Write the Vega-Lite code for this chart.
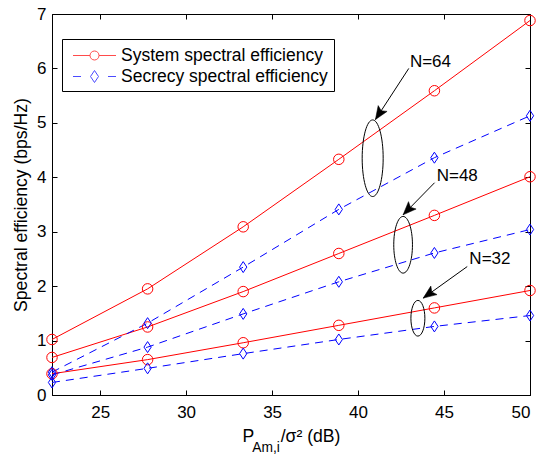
{
  "$schema": "https://vega.github.io/schema/vega-lite/v6.json",
  "width": 478,
  "height": 381,
  "autosize": {"type": "none"},
  "padding": {"left": 52, "top": 14, "right": 22, "bottom": 59},
  "background": "white",
  "config": {
    "font": "Liberation Sans",
    "view": {"stroke": "black", "strokeWidth": 1},
    "axis": {
      "grid": false,
      "domainColor": "black",
      "domainWidth": 1,
      "tickColor": "black",
      "tickWidth": 1,
      "tickSize": -5,
      "labelColor": "black",
      "titleColor": "black",
      "labelFont": "Liberation Sans",
      "titleFont": "Liberation Sans",
      "labelFontSize": 17,
      "titleFontSize": 17.6,
      "titleFontWeight": "normal"
    }
  },
  "title": {
    "text": "Am,i",
    "orient": "bottom",
    "anchor": "middle",
    "frame": "group",
    "font": "Liberation Sans",
    "fontSize": 13.8,
    "fontWeight": "normal",
    "color": "black",
    "dx": -25,
    "offset": -4
  },
  "datasets": {
    "curves": [
      {"p": 22.2, "N": 64, "series": "System spectral efficiency", "se": 1.02},
      {"p": 27.76, "N": 64, "series": "System spectral efficiency", "se": 1.95},
      {"p": 33.32, "N": 64, "series": "System spectral efficiency", "se": 3.09},
      {"p": 38.88, "N": 64, "series": "System spectral efficiency", "se": 4.33},
      {"p": 44.44, "N": 64, "series": "System spectral efficiency", "se": 5.59},
      {"p": 50, "N": 64, "series": "System spectral efficiency", "se": 6.88},
      {"p": 22.2, "N": 64, "series": "Secrecy spectral efficiency", "se": 0.42},
      {"p": 27.76, "N": 64, "series": "Secrecy spectral efficiency", "se": 1.32},
      {"p": 33.32, "N": 64, "series": "Secrecy spectral efficiency", "se": 2.35},
      {"p": 38.88, "N": 64, "series": "Secrecy spectral efficiency", "se": 3.41},
      {"p": 44.44, "N": 64, "series": "Secrecy spectral efficiency", "se": 4.36},
      {"p": 50, "N": 64, "series": "Secrecy spectral efficiency", "se": 5.13},
      {"p": 22.2, "N": 48, "series": "System spectral efficiency", "se": 0.69},
      {"p": 27.76, "N": 48, "series": "System spectral efficiency", "se": 1.25},
      {"p": 33.32, "N": 48, "series": "System spectral efficiency", "se": 1.9},
      {"p": 38.88, "N": 48, "series": "System spectral efficiency", "se": 2.6},
      {"p": 44.44, "N": 48, "series": "System spectral efficiency", "se": 3.3},
      {"p": 50, "N": 48, "series": "System spectral efficiency", "se": 4.01},
      {"p": 22.2, "N": 48, "series": "Secrecy spectral efficiency", "se": 0.37},
      {"p": 27.76, "N": 48, "series": "Secrecy spectral efficiency", "se": 0.88},
      {"p": 33.32, "N": 48, "series": "Secrecy spectral efficiency", "se": 1.49},
      {"p": 38.88, "N": 48, "series": "Secrecy spectral efficiency", "se": 2.08},
      {"p": 44.44, "N": 48, "series": "Secrecy spectral efficiency", "se": 2.61},
      {"p": 50, "N": 48, "series": "Secrecy spectral efficiency", "se": 3.04},
      {"p": 22.2, "N": 32, "series": "System spectral efficiency", "se": 0.39},
      {"p": 27.76, "N": 32, "series": "System spectral efficiency", "se": 0.65},
      {"p": 33.32, "N": 32, "series": "System spectral efficiency", "se": 0.96},
      {"p": 38.88, "N": 32, "series": "System spectral efficiency", "se": 1.28},
      {"p": 44.44, "N": 32, "series": "System spectral efficiency", "se": 1.6},
      {"p": 50, "N": 32, "series": "System spectral efficiency", "se": 1.92},
      {"p": 22.2, "N": 32, "series": "Secrecy spectral efficiency", "se": 0.23},
      {"p": 27.76, "N": 32, "series": "Secrecy spectral efficiency", "se": 0.49},
      {"p": 33.32, "N": 32, "series": "Secrecy spectral efficiency", "se": 0.76},
      {"p": 38.88, "N": 32, "series": "Secrecy spectral efficiency", "se": 1.02},
      {"p": 44.44, "N": 32, "series": "Secrecy spectral efficiency", "se": 1.26},
      {"p": 50, "N": 32, "series": "Secrecy spectral efficiency", "se": 1.46}
    ],
    "notes": [
      {"N": 64, "label": "N=64", "lx": 44.21, "ly": 6.12, "ax": 42.95, "ay": 6.0, "tx": 41.01, "ty": 5.06, "ex": 40.85, "ey": 4.35},
      {"N": 48, "label": "N=48", "lx": 45.77, "ly": 4.03, "ax": 44.45, "ay": 3.9, "tx": 42.62, "ty": 3.31, "ex": 42.62, "ey": 2.76},
      {"N": 32, "label": "N=32", "lx": 47.67, "ly": 2.5, "ax": 46.35, "ay": 2.36, "tx": 43.79, "ty": 1.78, "ex": 43.48, "ey": 1.41}
    ]
  },
  "layer": [
    {
      "data": {"name": "curves"},
      "transform": [{"filter": "datum.series === 'System spectral efficiency'"}],
      "mark": {"type": "line", "color": "#ff0000", "strokeWidth": 1, "clip": false},
      "encoding": {
        "x": {
          "field": "p",
          "type": "quantitative",
          "scale": {"domain": [22.2, 50], "nice": false, "zero": false},
          "axis": {
            "title": "P\u2003\u2002/σ² (dB)",
            "values": [25, 30, 35, 40, 45, 50],
            "labelPadding": 14,
            "titlePadding": 7
          }
        },
        "y": {
          "field": "se",
          "type": "quantitative",
          "scale": {"domain": [0, 7], "nice": false},
          "axis": {
            "title": "Spectral efficiency (bps/Hz)",
            "values": [0, 1, 2, 3, 4, 5, 6, 7],
            "labelPadding": 11,
            "titlePadding": 6
          }
        },
        "detail": {"field": "N"}
      }
    },
    {
      "data": {"name": "curves"},
      "transform": [{"filter": "datum.series === 'Secrecy spectral efficiency'"}],
      "mark": {"type": "line", "color": "#0000ff", "strokeWidth": 1, "strokeDash": [8, 6], "clip": false},
      "encoding": {
        "x": {"field": "p", "type": "quantitative", "axis": null},
        "y": {"field": "se", "type": "quantitative", "axis": null},
        "detail": {"field": "N"}
      }
    },
    {
      "data": {"name": "curves"},
      "transform": [{"filter": "datum.series === 'System spectral efficiency'"}],
      "mark": {"type": "point", "shape": "circle", "size": 110, "filled": false, "stroke": "#ff0000", "strokeWidth": 1, "opacity": 1, "clip": false},
      "encoding": {
        "x": {"field": "p", "type": "quantitative", "axis": null},
        "y": {"field": "se", "type": "quantitative", "axis": null}
      }
    },
    {
      "data": {"name": "curves"},
      "transform": [{"filter": "datum.series === 'Secrecy spectral efficiency'"}],
      "mark": {"type": "point", "shape": "M0,-1L0.66,0L0,1L-0.66,0Z", "size": 121, "filled": false, "stroke": "#0000ff", "strokeWidth": 1, "opacity": 1, "clip": false},
      "encoding": {
        "x": {"field": "p", "type": "quantitative", "axis": null},
        "y": {"field": "se", "type": "quantitative", "axis": null}
      }
    },
    {
      "data": {"name": "curves"},
      "transform": [{"filter": "false"}],
      "mark": {"type": "point", "filled": false, "size": 400, "strokeWidth": 1},
      "encoding": {
        "x": {
          "field": "p",
          "type": "quantitative",
          "axis": {"orient": "top", "labels": false, "title": null, "domain": false, "values": [25, 30, 35, 40, 45, 50]}
        },
        "y": {
          "field": "se",
          "type": "quantitative",
          "axis": {"orient": "right", "labels": false, "title": null, "domain": false, "values": [0, 1, 2, 3, 4, 5, 6, 7]}
        },
        "color": {
          "field": "series",
          "type": "nominal",
          "scale": {
            "domain": ["System spectral efficiency", "Secrecy spectral efficiency"],
            "range": ["#ff0000", "#0000ff"]
          },
          "legend": {
            "title": null,
            "orient": "none",
            "legendX": 10,
            "legendY": 25,
            "fillColor": "white",
            "strokeColor": "black",
            "padding": 6,
            "cornerRadius": 0,
            "rowPadding": 2,
            "symbolSize": 400,
            "symbolStrokeWidth": 1,
            "symbolOffset": 16,
            "labelOffset": 16,
            "labelFont": "Liberation Sans",
            "labelFontSize": 17.5,
            "labelColor": "black",
            "labelLimit": 400
          }
        },
        "shape": {
          "field": "series",
          "type": "nominal",
          "scale": {
            "domain": ["System spectral efficiency", "Secrecy spectral efficiency"],
            "range": [
              "M-2.15,0H-0.45M0.45,0H2.15M-0.45,0C-0.45,-0.25,-0.25,-0.45,0,-0.45C0.25,-0.45,0.45,-0.25,0.45,0C0.45,0.25,0.25,0.45,0,0.45C-0.25,0.45,-0.45,0.25,-0.45,0Z",
              "M-2.15,0H-1.35M1.35,0H2.15M0,-0.6L0.4,0L0,0.6L-0.4,0Z"
            ]
          }
        }
      }
    },
    {
      "data": {"name": "notes"},
      "mark": {"type": "rule", "color": "black", "strokeWidth": 1},
      "encoding": {
        "x": {"field": "ax", "type": "quantitative", "axis": null},
        "y": {"field": "ay", "type": "quantitative", "axis": null},
        "x2": {"field": "tx"},
        "y2": {"field": "ty"}
      }
    },
    {
      "data": {"name": "notes"},
      "mark": {"type": "point", "shape": "M0,0L0.4,1L0,0.8L-0.4,1Z", "size": 700, "filled": true, "fill": "black", "stroke": "black", "strokeWidth": 0.5, "opacity": 1},
      "encoding": {
        "x": {"field": "tx", "type": "quantitative", "axis": null},
        "y": {"field": "ty", "type": "quantitative", "axis": null},
        "angle": {
          "field": "N",
          "type": "quantitative",
          "scale": {"domain": [32, 48, 64], "range": [234, 224, 213]},
          "legend": null
        }
      }
    },
    {
      "data": {"name": "notes"},
      "transform": [{"filter": "datum.N === 64"}],
      "mark": {
        "type": "point",
        "shape": "M0,-1C0.151,-1,0.274,-0.552,0.274,0C0.274,0.552,0.151,1,0,1C-0.151,1,-0.274,0.552,-0.274,0C-0.274,-0.552,-0.151,-1,0,-1Z",
        "size": 5868, "filled": false, "stroke": "black", "strokeWidth": 1, "opacity": 1
      },
      "encoding": {
        "x": {"field": "ex", "type": "quantitative", "axis": null},
        "y": {"field": "ey", "type": "quantitative", "axis": null}
      }
    },
    {
      "data": {"name": "notes"},
      "transform": [{"filter": "datum.N === 48"}],
      "mark": {
        "type": "point",
        "shape": "M0,-1C0.182,-1,0.33,-0.552,0.33,0C0.33,0.552,0.182,1,0,1C-0.182,1,-0.33,0.552,-0.33,0C-0.33,-0.552,-0.182,-1,0,-1Z",
        "size": 3215, "filled": false, "stroke": "black", "strokeWidth": 1, "opacity": 1
      },
      "encoding": {
        "x": {"field": "ex", "type": "quantitative", "axis": null},
        "y": {"field": "ey", "type": "quantitative", "axis": null}
      }
    },
    {
      "data": {"name": "notes"},
      "transform": [{"filter": "datum.N === 32"}],
      "mark": {
        "type": "point",
        "shape": "M0,-1C0.216,-1,0.392,-0.552,0.392,0C0.392,0.552,0.216,1,0,1C-0.216,1,-0.392,0.552,-0.392,0C-0.392,-0.552,-0.216,-1,0,-1Z",
        "size": 1274, "filled": false, "stroke": "black", "strokeWidth": 1, "opacity": 1
      },
      "encoding": {
        "x": {"field": "ex", "type": "quantitative", "axis": null},
        "y": {"field": "ey", "type": "quantitative", "axis": null}
      }
    },
    {
      "data": {"name": "notes"},
      "mark": {"type": "text", "font": "Liberation Sans", "fontSize": 17, "color": "black", "align": "center", "baseline": "middle"},
      "encoding": {
        "x": {"field": "lx", "type": "quantitative", "axis": null},
        "y": {"field": "ly", "type": "quantitative", "axis": null},
        "text": {"field": "label"}
      }
    }
  ],
  "resolve": {
    "axis": {"x": "independent", "y": "independent"}
  }
}
